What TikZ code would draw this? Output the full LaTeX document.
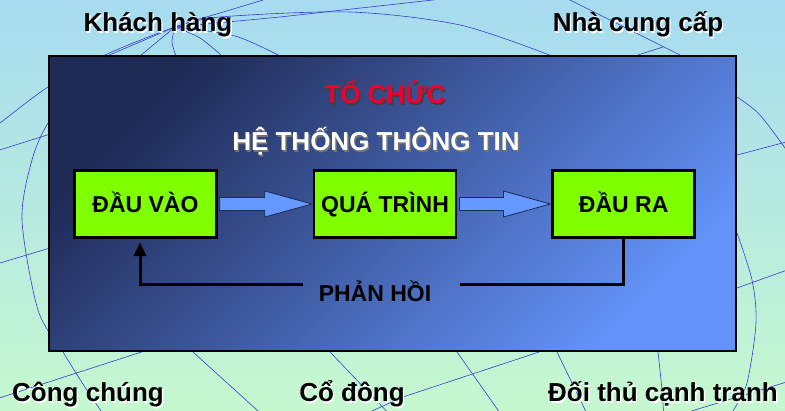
\documentclass[tikz,border=0pt]{standalone}
\usepackage{fontspec}
\setmainfont{Liberation Sans}
\usetikzlibrary{arrows.meta, positioning, calc}
\definecolor{cSkyTop}{HTML}{A6DBF0}
\definecolor{cMintBot}{HTML}{C6F8D0}
\definecolor{cNavy}{HTML}{1F2A55}
\definecolor{cRoyal}{HTML}{6392F8}
\definecolor{cLime}{HTML}{80FF00}
\definecolor{cArrowFill}{HTML}{6699FF}
\definecolor{cGlobe}{HTML}{3B3BD0}
\definecolor{cRedTitle}{HTML}{F0002D}
\newcommand{\shadowed}[2]{\rlap{\kern1.4pt\raisebox{-1.4pt}{\textcolor{#1}{#2}}}#2}
\tikzset{
	globe/.style    ={draw=cGlobe, line width=0.6pt},
	orgframe/.style ={rectangle, draw=black, line width=1.2pt, top color=cNavy, bottom color=cRoyal, shading angle=45, minimum width=687pt, minimum height=295pt},
	stagebox/.style ={rectangle, draw=black, line width=2.6pt, fill=cLime, minimum width=142pt, minimum height=67.5pt, text height=16.5pt, text depth=0pt, inner sep=0pt, font=\fontsize{23}{26}\selectfont\bfseries},
	fatarrow/.style ={draw=cNavy, line width=0.8pt, fill=cArrowFill, line join=miter},
	fbline/.style   ={draw=black, line width=3pt},
	% texts
	outlabel/.style ={anchor=base, font=\fontsize{26}{30}\selectfont\bfseries},
	titletext/.style={anchor=base, font=\fontsize{26}{30}\selectfont\bfseries},
	fbtext/.style   ={anchor=base, font=\fontsize{23}{26}\selectfont\bfseries},
}
\begin{document}
\begin{tikzpicture}[x=1pt, y=-1pt]
	\useasboundingbox (0,0) rectangle (785,411);
	% background
	\shade[top color=cSkyTop, bottom color=cMintBot] (0,0) rectangle (785,411);
	% globe lines
	\begin{scope}
		\clip (0,0) rectangle (785,411);
		\draw[globe] plot[smooth] coordinates {(115,430) (90,395) (63,352) (38,310) (22,220) (32,160) (48,123) (75,90)};
		\draw[globe] plot[smooth] coordinates {(-10,130) (0,123) (48,87) (105,55) (175,27) (230,10) (290,-8)};
		\draw[globe] (-10,153) -- (60,131);
		\draw[globe] (-10,266) -- (60,245);
		\draw[globe] (-10,401) -- (160,346);
		\draw[globe] (107,56) -- (175,27);
		\draw[globe] (140,56) -- (175,27);
		\draw[globe] plot[smooth] coordinates {(176,56) (172,42) (175,27)};
		\draw[globe] plot[smooth] coordinates {(222,56) (200,38) (175,27)};
		\draw[globe] plot[smooth] coordinates {(280,56) (235,36) (175,27)};
		\draw[globe] plot[smooth] coordinates {(175,27) (220,17) (350,12) (460,25) (552,56)};
		\draw[globe] (175,27) -- (280,17) -- (460,-3);
		\draw[globe] plot[smooth] coordinates {(560,-5) (620,25) (682,56)};
		\draw[globe] (635,56) -- (663,47);
		\draw[globe] plot[smooth] coordinates {(737,97) (760,115) (790,155)};
		\draw[globe] (737,155) -- (790,141);
		\draw[globe] plot[smooth] coordinates {(737,233) (752,280) (756,323) (747,383) (733,411) (725,425)};
		\draw[globe] (737,288) -- (790,269);
		\draw[globe] (685,413) -- (790,381);
		\draw[globe] (193,352) -- (268,420);
		\draw[globe] (330,352) -- (395,420);
		\draw[globe] (457,352) -- (505,420);
		\draw[globe] (557,352) -- (590,420);
		\draw[globe] plot[smooth] coordinates {(658,352) (662,390) (664,420)};
		\draw[globe] (330,430) -- (403,397) -- (545,350);
	\end{scope}
	% organisation frame
	\node[orgframe] (org) at (392.5,203.5) {};
	\node[titletext, text=cRedTitle] (tochuc) at (385,104) {\shadowed{black!75}{TỔ CHỨC}};
	\node[titletext, text=white] (httt) at (376,151) {\shadowed{black!55}{HỆ THỐNG THÔNG TIN}};
	% stages
	\node[stagebox] (vao) at (145.5,204) {ĐẦU VÀO};
	\node[stagebox, right=95pt of vao] (qua) {QUÁ TRÌNH};
	\node[stagebox, right=94pt of qua] (ra) {ĐẦU RA};
	% block arrows
	\draw[fatarrow] ($(vao.east)+(2pt,6.5pt)$) -- ($(qua.west)+(-48pt,6.5pt)$) -- ($(qua.west)+(-48pt,13pt)$) -- ($(qua.west)+(-1pt,0pt)$)
		-- ($(qua.west)+(-48pt,-13pt)$) -- ($(qua.west)+(-48pt,-6.5pt)$) -- ($(vao.east)+(2pt,-6.5pt)$) -- cycle;
	\draw[fatarrow] ($(qua.east)+(2pt,6.5pt)$) -- ($(ra.west)+(-48pt,6.5pt)$) -- ($(ra.west)+(-48pt,13pt)$) -- ($(ra.west)+(-1pt,0pt)$)
		-- ($(ra.west)+(-48pt,-13pt)$) -- ($(ra.west)+(-48pt,-6.5pt)$) -- ($(qua.east)+(2pt,-6.5pt)$) -- cycle;
	% feedback
	\node[fbtext] (phanhoi) at (375,302) {PHẢN HỒI};
	\coordinate (fbR) at (460,285);
	\coordinate (fbL) at (303,285);
	\draw[fbline] (ra.south) |- (fbR);
	\draw[fbline, -{Triangle[length=14pt, width=12pt]}, shorten >=3pt] (fbL) -| ([xshift=-5.5pt]vao.south);
	% surrounding parties
	\node[outlabel] (khach) at (158,32) {\shadowed{white}{Khách hàng}};
	\node[outlabel] (nhacc) at (638,32) {\shadowed{white}{Nhà cung cấp}};
	\node[outlabel] (congchung) at (88,402) {\shadowed{white}{Công chúng}};
	\node[outlabel] (codong) at (352,402) {\shadowed{white}{Cổ đông}};
	\node[outlabel] (doithu) at (663,402) {\shadowed{white}{Đối thủ cạnh tranh}};
\end{tikzpicture}
\end{document}
